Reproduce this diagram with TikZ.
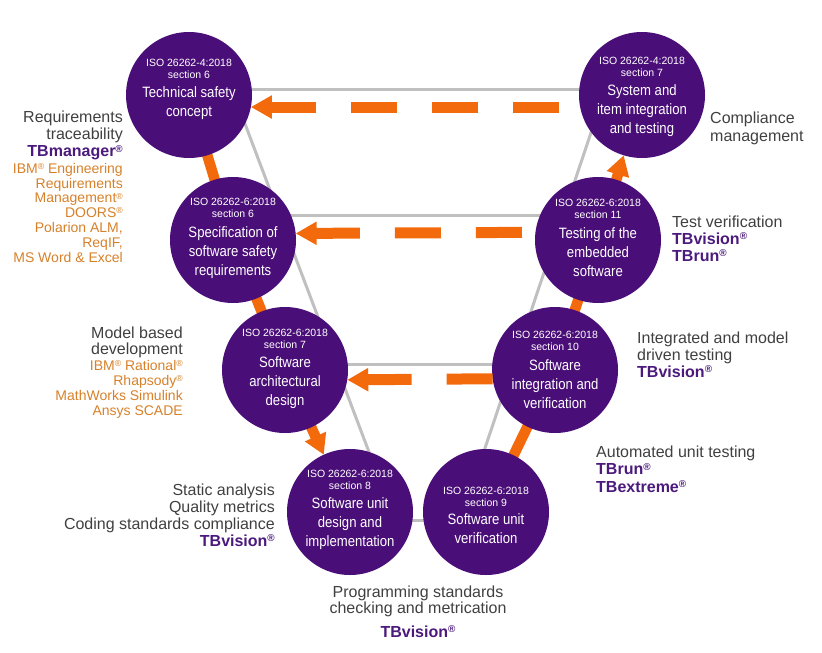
\documentclass[tikz,border=0pt]{standalone}
\usepackage{fontspec}
\usepackage{graphicx}
\setmainfont{Liberation Sans}
\newfontfamily\narrowfont{Liberation Sans}[FakeStretch=0.875]
\usetikzlibrary{arrows.meta,backgrounds}
\definecolor{vpurple}{HTML}{4A0E78}
\definecolor{vorange}{HTML}{F26A0C}
\definecolor{tbpurple}{HTML}{4B1A7C}
\definecolor{torange}{HTML}{D6812A}
\definecolor{tgray}{HTML}{404040}
\definecolor{lgray}{HTML}{C0C0C0}
\newcommand\reg{\raisebox{0.27em}{\scalebox{0.62}{®}}}
\newcommand\tb[1]{\textcolor{tbpurple}{\bfseries #1}}
\newcommand\vcirc[7]{%
  \node[circ] (#1) at (#2,#3) {};
  \node[isotxt] (#1iso) at (#2,#3+#4-7.6) {#6};
  \node[ttltxt] (#1ttl) at (#2,#3+#5-10.9) {#7};
}
\begin{document}
\begin{tikzpicture}[x=1pt,y=-1pt,
  circ/.style={circle, fill=vpurple, minimum size=126pt, inner sep=0pt, outer sep=0pt},
  isotxt/.style={anchor=north, align=center, text=white, inner sep=0pt, font=\fontsize{10.5}{12}\selectfont},
  ttltxt/.style={anchor=north, align=center, text=white, inner sep=0pt, font=\narrowfont\fontsize{15}{19}\selectfont},
  rung/.style={draw=lgray, line width=3pt},
  band/.style={draw=vorange, line width=10.5pt},
  bandtip/.style={-{Triangle[length=20pt,width=22pt]}},
  dasharrow/.style={draw=vorange, line width=11pt, dash pattern=on 46pt off 35pt, -{Triangle[length=21pt,width=22pt]}},
  graytxt/.style={inner sep=0pt, text=tgray, font=\fontsize{16}{17.3}\selectfont},
  orangetxt/.style={inner sep=0pt, text=torange, font=\fontsize{14}{14.8}\selectfont}
]
\useasboundingbox (0,0) rectangle (822,653);

\vcirc{C1}{189}{95}{-28}{2}{ISO 26262-4:2018\\section 6}{Technical safety\\concept}
\vcirc{C2}{642}{95}{-30}{0}{ISO 26262-4:2018\\section 7}{System and\\item integration\\and testing}
\vcirc{C3}{233}{240}{-34}{-3}{ISO 26262-6:2018\\section 6}{Specification of\\software safety\\requirements}
\vcirc{C4}{598}{240}{-33}{-2}{ISO 26262-6:2018\\section 11}{Testing of the\\embedded\\software}
\vcirc{C5}{285}{370}{-33}{-3}{ISO 26262-6:2018\\section 7}{Software\\architectural\\design}
\vcirc{C6}{555}{370}{-31}{0}{ISO 26262-6:2018\\section 10}{Software\\integration and\\verification}
\vcirc{C7}{350}{512}{-34}{-4}{ISO 26262-6:2018\\section 8}{Software unit\\design and\\implementation}
\vcirc{C8}{486}{512}{-17}{12}{ISO 26262-6:2018\\section 9}{Software unit\\verification}

\begin{pgfonlayer}{background}
  % gray frame
  \draw[rung] ([shift={(0,-6)}]C1.center) -- ([shift={(0,-6)}]C2.center);
  \draw[rung] ([shift={(0,-25)}]C3.center) -- ([shift={(0,-25)}]C4.center);
  \draw[rung] ([shift={(0,-6)}]C5.center) -- ([shift={(0,-6)}]C6.center);
  \draw[rung] ([shift={(0,8)}]C7.center) -- ([shift={(0,8)}]C8.center);
  \draw[rung] ([shift={(47,5)}]C1.center) -- ([shift={(22,-52)}]C7.center);
  \draw[rung] ([shift={(-40,5)}]C2.center) -- ([shift={(-5,-52)}]C8.center);
  % orange flow
  \draw[band] (C1.center) -- (C3.center);
  \draw[band] (C3.center) -- (C5.center);
  \draw[band,bandtip] (C5.center) -- (C7);
  \draw[band] (C8.center) -- (C6.center);
  \draw[band] (C6.center) -- (C4.center);
  \draw[band,bandtip] (C4.center) -- (C2);
\end{pgfonlayer}

% dashed feedback arrows
\draw[dasharrow, dash phase=60pt] (C2.191) -- (C1.349);
\draw[dasharrow, dash phase=67.5pt] (C4.173.2) -- (C3.6.8);
\draw[dasharrow, dash phase=0pt] (C6.188.7) -- (C5.351.3);

% side texts
\node[graytxt, anchor=north east, align=right] (req) at (123,110.4)
  {Requirements\\traceability\\\tb{TBmanager\reg}};
\node[orangetxt, anchor=north east, align=right] (reqtools) at (123,163)
  {IBM\reg{} Engineering\\Requirements\\Management\reg\\DOORS\reg\\Polarion ALM,\\ReqIF,\\MS Word \& Excel};
\node[graytxt, anchor=north east, align=right, font=\fontsize{16}{16.5}\selectfont] (mbd) at (183,326.4)
  {Model based\\development};
\node[orangetxt, anchor=north east, align=right, font=\fontsize{14}{15}\selectfont] (mbdtools) at (183,360)
  {IBM\reg{} Rational\reg\\Rhapsody\reg\\MathWorks Simulink\\Ansys SCADE};
\node[graytxt, anchor=north east, align=right, font=\fontsize{16}{17}\selectfont] (stat) at (275,483.4)
  {Static analysis\\Quality metrics\\Coding standards compliance\\\tb{TBvision\reg}};
\node[graytxt, anchor=north, align=center, font=\fontsize{16}{16.3}\selectfont] (prog) at (418,585.4)
  {Programming standards\\checking and metrication};
\node[graytxt, anchor=north] (progtb) at (418,625.4) {\tb{TBvision\reg}};
\node[graytxt, anchor=north west, align=left, font=\fontsize{16}{18}\selectfont] (comp) at (710,111.4)
  {Compliance\\management};
\node[graytxt, anchor=north west, align=left, font=\fontsize{16}{17}\selectfont] (testv) at (672,215.4)
  {Test verification\\\tb{TBvision\reg}\\\tb{TBrun\reg}};
\node[graytxt, anchor=north west, align=left, font=\fontsize{16}{17}\selectfont] (integ) at (637,331.4)
  {Integrated and model\\driven testing\\\tb{TBvision\reg}};
\node[graytxt, anchor=north west, align=left, font=\fontsize{16}{17.5}\selectfont] (autou) at (596,445.4)
  {Automated unit testing\\\tb{TBrun\reg}\\\tb{TBextreme\reg}};
\end{tikzpicture}
\end{document}
